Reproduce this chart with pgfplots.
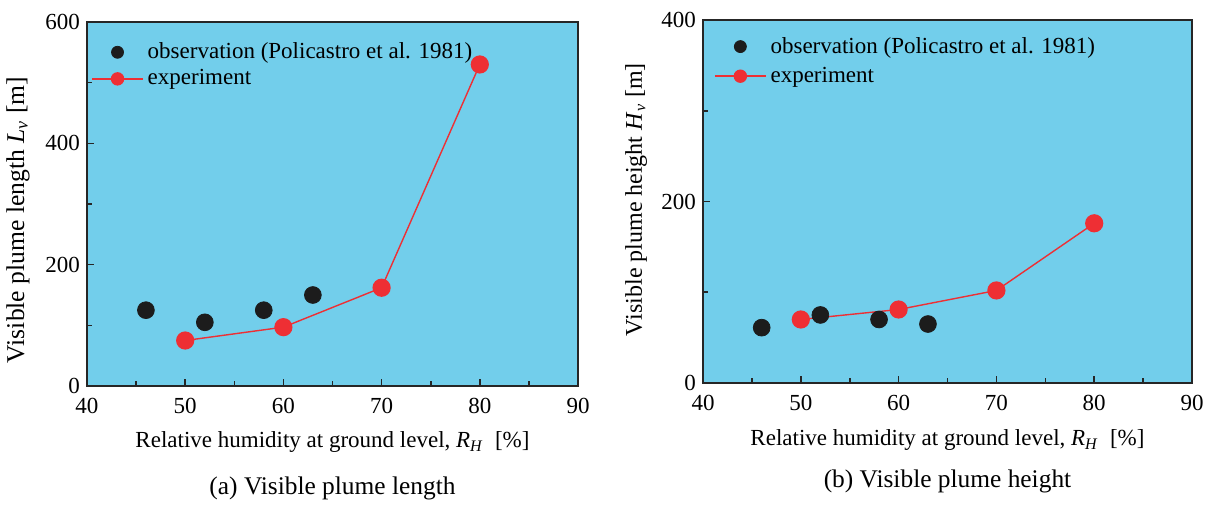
\documentclass[border=0pt]{standalone}
\usepackage{fontspec}
\setmainfont{Liberation Serif}
\usepackage{pgfplots}
\pgfplotsset{compat=1.18}

\definecolor{bgblue}{HTML}{72CEEB}
\definecolor{expred}{HTML}{EE2F34}
\definecolor{obsblack}{HTML}{1C1C1C}

\pgfplotsset{
  plume/.style={
    scale only axis,
    xmin=40, xmax=90,
    xtick={40,50,...,90},
    minor x tick num=1, minor y tick num=1,
    tick align=inside, tick pos=left,
    major tick length=3.5pt, minor tick length=2.5pt,
    axis background/.style={fill=bgblue},
    axis line style={line width=0.8pt, black!85},
    tick style={line width=0.8pt, black!85},
    /pgf/number format/assume math mode=true,
    ticklabel style={font=\fontsize{11.5}{13}\selectfont},
    xticklabel style={yshift=-2.5pt},
    label style={font=\fontsize{11.5}{13}\selectfont},
    xlabel={Relative humidity at ground level, \textit{R}\textsubscript{\textit{H}}\ \ [\%]},
    legend style={draw=none, fill=none, font=\fontsize{11.5}{13}\selectfont,
      cells={anchor=west}, anchor=north west, inner xsep=0pt, inner ysep=0pt},
    legend image code/.code={\draw[mark repeat=2,mark phase=2,#1,mark size=3pt]
      plot coordinates {(0pt,0pt)(12.75pt,0pt)(25.5pt,0pt)};},
  },
  obs/.style={only marks, mark=*, color=obsblack, mark size=4.2pt},
  exp/.style={mark=*, color=expred, line width=0.7pt, mark size=4.2pt},
}

\begin{document}
\begin{tikzpicture}
\path[use as bounding box] (-43.5pt,-59.5pt) rectangle (565.5pt,193pt);

% (a) length
\begin{axis}[plume, name=A, at={(0pt,0pt)}, anchor=south west,
    width=245.5pt, height=182pt,
    ymin=0, ymax=600, ytick={0,200,400,600},
    ylabel={Visible plume length \textit{L}\textsubscript{\textit{v}} [m]},
    ylabel style={at={(axis description cs:-0.1405,0.456)}, anchor=center,
      font=\fontsize{12.8}{14}\selectfont},
    xlabel style={at={(axis description cs:0.5,-0.154)}, anchor=center},
    legend style={at={(axis description cs:0.008,0.955)}},
]
\addplot[obs] coordinates {(46,125) (52,105) (58,125) (63,150)};
\addlegendentry{observation (Policastro et al. 1981)}
\addplot[exp] coordinates {(50,75) (60,97) (70,162) (80,530)};
\addlegendentry{experiment}
\end{axis}

% (b) height
\begin{axis}[plume, name=B, at={(308pt,1.5pt)}, anchor=south west,
    width=244.5pt, height=181.5pt,
    ymin=0, ymax=400, ytick={0,200,400},
    ylabel={Visible plume height \textit{H}\textsubscript{\textit{v}} [m]},
    ylabel style={at={(axis description cs:-0.137,0.505)}, anchor=center,
      font=\fontsize{12}{14}\selectfont},
    xlabel style={at={(axis description cs:0.5,-0.157)}, anchor=center},
    legend style={at={(axis description cs:0.022,0.965)}, row sep=1.5pt},
]
\addplot[obs] coordinates {(46,61) (52,75) (58,70) (63,65)};
\addlegendentry{observation (Policastro et al. 1981)}
\addplot[exp] coordinates {(50,70) (60,81) (70,102) (80,176)};
\addlegendentry{experiment}
\end{axis}

\node[font=\fontsize{12.7}{15}\selectfont] at ([yshift=-51pt]A.south) {(a) Visible plume length};
\node[font=\fontsize{12.7}{15}\selectfont] at ([yshift=-49pt]B.south) {(b) Visible plume height};
\end{tikzpicture}
\end{document}
